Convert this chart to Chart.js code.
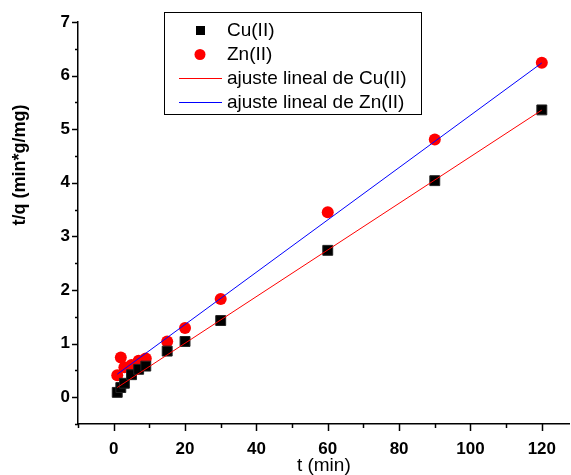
<!DOCTYPE html>
<html>
<head>
<meta charset="utf-8">
<script src="https://cdn.jsdelivr.net/npm/chart.js@4.4.0/dist/chart.umd.min.js"></script>
<style>
  html, body { margin: 0; padding: 0; background: #fff; overflow: hidden; }
  #wrap { width: 571px; height: 475px; }
</style>
</head>
<body>
<div id="wrap"><canvas id="kinetics" width="571" height="475"></canvas></div>
<script>
// sampling times (min) and t/q values
const tMin = [1, 2, 3, 5, 7, 9, 15, 20, 30, 60, 90, 120];
const tqCu = [0.09, 0.18, 0.26, 0.42, 0.52, 0.58, 0.86, 1.04, 1.43, 2.74, 4.04, 5.36];
const tqZn = [0.41, 0.74, 0.56, 0.60, 0.68, 0.72, 1.04, 1.29, 1.83, 3.45, 4.81, 6.24];

// linear fits: t/q = a + b*t
const fitCu = { a: 0.137, b: 0.0435 };
const fitZn = { a: 0.38, b: 0.0488 };
const fitRange = [1, 120];

const xTickLabels = [0, 20, 40, 60, 80, 100, 120];
const yTickLabels = [0, 1, 2, 3, 4, 5, 6, 7];

const seriesNames = ['Cu(II)', 'Zn(II)', 'ajuste lineal de Cu(II)', 'ajuste lineal de Zn(II)'];

function points(xs, ys) {
    return xs.map((x, i) => ({ x: x, y: ys[i] }));
}
function fitLine(fit) {
    return fitRange.map(x => ({ x: x, y: fit.a + fit.b * x }));
}

const FONT = 'Liberation Sans, Arial, sans-serif';

// axis ticks: majors at labelled values, minors half way between
const axisTicks = {
    id: 'axisTicks',
    afterDraw(chart) {
        const ctx = chart.ctx;
        const xs = chart.scales.x, ys = chart.scales.y;
        const area = chart.chartArea;
        ctx.save();
        ctx.strokeStyle = '#000';
        ctx.lineWidth = 1.5;
        for (let v = -10; v <= xs.max; v += 10) {
            const px = Math.round(xs.getPixelForValue(v)) + 0.5;
            const len = v % 20 === 0 ? 7 : 4;
            ctx.beginPath();
            ctx.moveTo(px, area.bottom);
            ctx.lineTo(px, area.bottom + len);
            ctx.stroke();
        }
        for (let v = -0.5; v <= 7.001; v += 0.5) {
            const py = Math.round(ys.getPixelForValue(v)) + 0.5;
            const len = Number.isInteger(v) ? 6 : 3;
            ctx.beginPath();
            ctx.moveTo(area.left, py);
            ctx.lineTo(area.left - len, py);
            ctx.stroke();
        }
        // y axis title
        ctx.fillStyle = '#000';
        ctx.font = 'bold 18px ' + FONT;
        ctx.textAlign = 'center';
        ctx.textBaseline = 'middle';
        ctx.translate(20, area.top + 143);
        ctx.rotate(-Math.PI / 2);
        ctx.fillText('t/q (min*g/mg)', 0, 0);
        ctx.restore();
    }
};

// boxed legend in the upper part of the plot
const boxLegend = {
    id: 'boxLegend',
    afterDraw(chart) {
        const ctx = chart.ctx;
        const bx = 164, by = 12, bw = 257, bh = 102;
        ctx.save();
        ctx.fillStyle = '#fff';
        ctx.fillRect(bx, by, bw, bh);
        ctx.strokeStyle = '#000';
        ctx.lineWidth = 1;
        ctx.strokeRect(bx + 0.5, by + 0.5, bw, bh);
        ctx.font = '19px ' + FONT;
        ctx.textBaseline = 'middle';
        ctx.textAlign = 'left';
        chart.data.datasets.forEach((ds, i) => {
            const y = by + 18 + i * 24;
            if (ds.showLine) {
                ctx.strokeStyle = ds.borderColor;
                ctx.lineWidth = 1;
                ctx.beginPath();
                ctx.moveTo(bx + 15, y + 0.5);
                ctx.lineTo(bx + 58, y + 0.5);
                ctx.stroke();
            } else {
                ctx.fillStyle = ds.backgroundColor;
                if (ds.pointStyle === 'rect') {
                    ctx.fillRect(bx + 32, y - 4, 9, 9);
                } else {
                    ctx.beginPath();
                    ctx.arc(bx + 36, y + 0.5, 5.5, 0, Math.PI * 2);
                    ctx.fill();
                }
            }
            ctx.fillStyle = '#000';
            ctx.fillText(ds.label, bx + 63, y + 1);
        });
        ctx.restore();
    }
};

new Chart(document.getElementById('kinetics'), {
    type: 'scatter',
    data: {
        datasets: [
            {
                label: seriesNames[0],
                data: points(tMin, tqCu),
                pointStyle: 'rect',
                pointRadius: 7,
                backgroundColor: '#000',
                borderColor: '#222',
                borderWidth: 1,
                order: 2
            },
            {
                label: seriesNames[1],
                data: points(tMin, tqZn),
                pointStyle: 'circle',
                pointRadius: 6,
                backgroundColor: '#ff0000',
                borderColor: '#ff0000',
                borderWidth: 0,
                order: 2
            },
            {
                label: seriesNames[2],
                data: fitLine(fitCu),
                showLine: true,
                pointRadius: 0,
                borderColor: '#ff0000',
                borderWidth: 1,
                order: 1
            },
            {
                label: seriesNames[3],
                data: fitLine(fitZn),
                showLine: true,
                pointRadius: 0,
                borderColor: '#0000ff',
                borderWidth: 1,
                order: 1
            }
        ]
    },
    options: {
        responsive: false,
        animation: false,
        events: [],
        layout: { autoPadding: false, padding: { top: 22, right: 0, bottom: 0, left: 0 } },
        plugins: { legend: { display: false }, tooltip: { enabled: false } },
        scales: {
            x: {
                type: 'linear',
                min: -10,
                max: 127.8,
                afterBuildTicks: s => { s.ticks = xTickLabels.map(v => ({ value: v })); },
                afterFit: s => { s.height = 51; },
                grid: { drawOnChartArea: false, drawTicks: false },
                border: { display: true, color: '#000', width: 1.5 },
                ticks: {
                    padding: 15,
                    color: '#000',
                    font: { family: FONT, size: 17, weight: 'bold' },
                    maxRotation: 0
                },
                title: {
                    display: true,
                    text: 't (min)',
                    color: '#000',
                    padding: { top: 0, bottom: 0 },
                    font: { family: FONT, size: 19, lineHeight: 1 }
                }
            },
            y: {
                type: 'linear',
                min: -0.5,
                max: 7,
                afterBuildTicks: s => { s.ticks = yTickLabels.map(v => ({ value: v })); },
                afterFit: s => { s.width = 78; },
                grid: { drawOnChartArea: false, drawTicks: false },
                border: { display: true, color: '#000', width: 1.5 },
                ticks: {
                    padding: 8,
                    color: '#000',
                    font: { family: FONT, size: 17, weight: 'bold' }
                }
            }
        }
    },
    plugins: [axisTicks, boxLegend]
});
</script>
</body>
</html>
